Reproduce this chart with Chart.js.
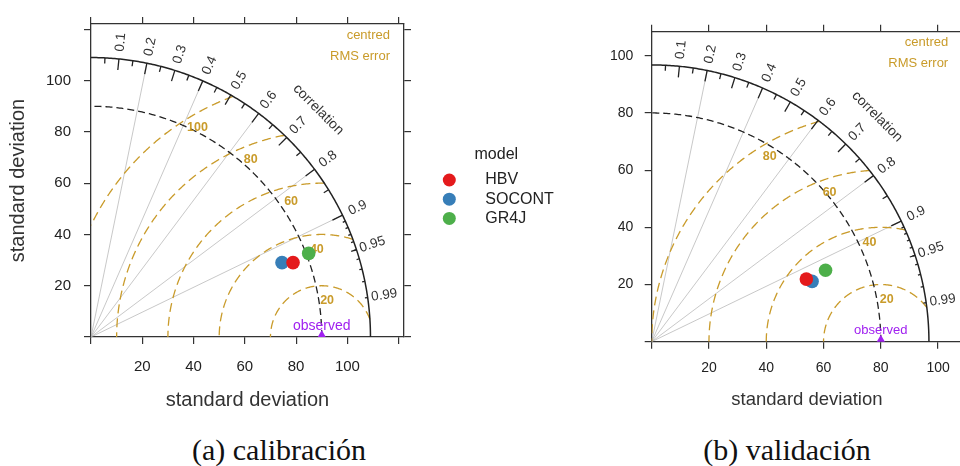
<!DOCTYPE html>
<html>
<head>
<meta charset="utf-8">
<script src="https://cdn.jsdelivr.net/npm/chart.js@4.4.0/dist/chart.umd.min.js"></script>
<style>
html, body { margin: 0; padding: 0; background: #fff; width: 960px; height: 466px; overflow: hidden; position: relative; }
#calCanvas { position: absolute; left: 0; top: 0; }
#valCanvas { position: absolute; left: 560px; top: 0; }
.cap { position: absolute; top: 435px; font-family: "Liberation Serif", "Times New Roman", serif; font-size: 30px; line-height: 1; color: #111; transform: translateX(-50%); white-space: nowrap; }
</style>
</head>
<body>
<canvas id="calCanvas" width="560" height="420"></canvas>
<canvas id="valCanvas" width="420" height="420"></canvas>
<div class="cap" style="left:279px">(a) calibración</div>
<div class="cap" style="left:787px">(b) validación</div>
<script>
const models = ['HBV', 'SOCONT', 'GR4J'];
const modelColors = ['#E41A1C', '#377EB8', '#4DAF4A'];

// (a) calibración
const calSd = [83.97, 79.94, 90.95];
const calCorr = [0.9384, 0.9319, 0.9335];
const calObsSd = 90;
const calMaxSd = 109;
const calRms = [20, 40, 60, 80, 100];
const calSdTicks = [0, 20, 40, 60, 80, 100, 120];

// (b) validación
const valSd = [58.27, 59.84, 65.65];
const valCorr = [0.9267, 0.9358, 0.9246];
const valObsSd = 80;
const valMaxSd = 96.8;
const valRms = [20, 40, 60, 80];
const valSdTicks = [0, 20, 40, 60, 80, 100];

const sdTickLabels = [20, 40, 60, 80, 100];
const corrTicks = [0.1, 0.2, 0.3, 0.4, 0.5, 0.6, 0.7, 0.8, 0.9, 0.95, 0.99];
const corrMedTicks = [0.05, 0.15, 0.25, 0.35, 0.45, 0.55, 0.65, 0.75, 0.85, 0.95];
const corrSmallTicks = [0.91, 0.92, 0.93, 0.94, 0.95, 0.96, 0.97, 0.98, 0.99];
const corrGrid = [0.2, 0.4, 0.6, 0.8, 0.9];

const fam = '"Liberation Sans", Arial, sans-serif';
const gold = '#C99B2A';
const purple = '#A020F0';
Chart.defaults.font.family = fam;

const taylorPlugin = {
  id: 'taylor',
  beforeDatasetsDraw(chart, args, o) {
    const ctx = chart.ctx, xs = chart.scales.x, ys = chart.scales.y, a = chart.chartArea;
    const P = (x, y) => [xs.getPixelForValue(x), ys.getPixelForValue(y)];
    const polar = (r, t) => P(r * Math.cos(t), r * Math.sin(t));
    const poly = pts => {
      ctx.beginPath();
      pts.forEach((p, i) => i ? ctx.lineTo(p[0], p[1]) : ctx.moveTo(p[0], p[1]));
      ctx.stroke();
    };
    const arc = (cx, r, t0, t1) => {
      const pts = [];
      for (let i = 0; i <= 240; i++) {
        const t = t0 + (t1 - t0) * i / 240;
        pts.push(P(cx + r * Math.cos(t), r * Math.sin(t)));
      }
      return pts;
    };
    const M = o.maxSd, obs = o.obsSd;
    ctx.save();
    ctx.beginPath();
    ctx.rect(a.left, a.top, a.right - a.left, a.bottom - a.top);
    ctx.clip();

    // correlation grid lines
    ctx.strokeStyle = 'rgba(170,170,170,0.65)';
    ctx.lineWidth = 1;
    corrGrid.forEach(c => poly([P(0, 0), polar(M, Math.acos(c))]));

    // centred RMS error arcs
    ctx.strokeStyle = gold;
    ctx.lineWidth = 1.3;
    ctx.setLineDash([9, 5]);
    o.rms.forEach(g => {
      const c0 = (M * M - obs * obs - g * g) / (2 * obs * g);
      const t0 = c0 >= 1 ? 0 : Math.acos(Math.max(-1, c0));
      const c1 = -obs / g;
      const t1 = c1 <= -1 ? Math.PI : Math.acos(c1);
      poly(arc(obs, g, t0, t1));
    });

    // observed sd arc
    ctx.strokeStyle = '#222';
    ctx.setLineDash([7, 4]);
    poly(arc(0, obs, 0, Math.PI / 2));

    // outer arc + correlation ticks
    ctx.setLineDash([]);
    ctx.lineWidth = 1.5;
    poly(arc(0, M, 0, Math.PI / 2));
    ctx.lineWidth = 1.3;
    const tick = (c, f) => { const t = Math.acos(c); poly([polar(M, t), polar(M * f, t)]); };
    corrTicks.slice(0, 9).forEach(c => tick(c, 0.96));
    corrMedTicks.forEach(c => tick(c, 0.98));
    corrSmallTicks.forEach(c => tick(c, 0.99));

    // correlation labels
    ctx.fillStyle = '#333';
    ctx.textAlign = 'center';
    ctx.textBaseline = 'middle';
    ctx.font = '13.5px ' + fam;
    corrTicks.forEach(c => {
      const t = Math.acos(c);
      const [x, y] = polar(M * 1.06, t);
      ctx.save(); ctx.translate(x, y); ctx.rotate(-t); ctx.fillText(String(c), 0, 0); ctx.restore();
    });
    const [cx, cy] = polar(M * 1.15, Math.PI / 4);
    ctx.save(); ctx.translate(cx, cy); ctx.rotate(Math.PI / 4);
    ctx.font = '14px ' + fam;
    ctx.fillText('correlation', 0, 0);
    ctx.restore();

    // RMS labels
    ctx.fillStyle = gold;
    ctx.font = 'bold 12.5px ' + fam;
    o.rms.forEach((g, i) => {
      const t = (84 + 35 * i / (o.rms.length - 1)) * Math.PI / 180;
      const [x, y] = P(obs + g * Math.cos(t), g * Math.sin(t));
      ctx.fillText(String(g), x, y + 15);
    });
    ctx.textAlign = 'right';
    ctx.font = '13px ' + fam;
    ctx.fillText('centred', a.right - 14, a.top + 11);
    ctx.fillText('RMS error', a.right - 14, a.top + 32);

    // observed label
    ctx.textAlign = 'center';
    ctx.fillStyle = purple;
    ctx.font = o.obsFont + 'px ' + fam;
    const [ox, oy] = P(obs, 0);
    ctx.fillText('observed', ox, oy - 11);
    ctx.restore();
  },
  afterDraw(chart, args, o) {
    if (!o.legend) return;
    const ctx = chart.ctx, L = o.legend;
    ctx.save();
    ctx.font = '16px ' + fam;
    ctx.textBaseline = 'middle';
    ctx.textAlign = 'center';
    ctx.fillStyle = '#222';
    ctx.fillText('model', L.x + 47, L.y - 25);
    ctx.textAlign = 'left';
    models.forEach((m, i) => {
      const y = L.y + i * 19.2;
      ctx.fillStyle = modelColors[i];
      ctx.beginPath(); ctx.arc(L.x, y, 6.5, 0, 2 * Math.PI); ctx.fill();
      ctx.fillStyle = '#222';
      ctx.fillText(m, L.x + 36, y);
    });
    ctx.restore();
  }
};

function sdScale(pos, range, ticks, opt) {
  const horiz = pos === 'top' || pos === 'bottom';
  const labelled = pos === 'bottom' || pos === 'left';
  return {
    type: 'linear', position: pos, min: 0, max: range, display: true,
    afterBuildTicks: s => { s.ticks = ticks.map(v => ({ value: v })); },
    afterFit: s => {
      if (horiz) s.height = opt.size; else s.width = opt.size;
      s.paddingLeft = s.paddingRight = s.paddingTop = s.paddingBottom = 0;
    },
    grid: { display: true, drawOnChartArea: false, drawTicks: true, tickLength: 7, color: '#333', lineWidth: 1.2 },
    border: { display: true, color: '#333', width: 1.3 },
    ticks: {
      display: labelled, autoSkip: false, maxRotation: 0, minRotation: 0,
      padding: opt.pad || 0, color: '#222', font: { size: opt.font || 14 },
      callback: v => sdTickLabels.includes(v) ? String(v) : ''
    },
    title: opt.title ? {
      display: true, text: 'standard deviation', color: '#333',
      font: { size: opt.title }, padding: opt.titlePad
    } : { display: false }
  };
}

function makeDatasets(sd, corr, obs) {
  const ds = [{
    label: 'observed', data: [{ x: obs, y: 0 }], pointStyle: 'triangle',
    pointRadius: 7, backgroundColor: purple, borderWidth: 0, clip: 0
  }];
  models.forEach((m, i) => ds.push({
    label: m,
    data: [{ x: sd[i] * corr[i], y: sd[i] * Math.sqrt(1 - corr[i] * corr[i]) }],
    backgroundColor: modelColors[i], pointRadius: 6.8, borderWidth: 0
  }));
  return ds;
}

function makeTaylor(id, sd, corr, obs, maxSd, rms, ticks, lay) {
  const range = maxSd * 1.12;
  return new Chart(document.getElementById(id), {
    type: 'scatter',
    data: { datasets: makeDatasets(sd, corr, obs) },
    options: {
      responsive: false, animation: false, events: [],
      layout: { padding: 0 },
      scales: {
        x: sdScale('bottom', range, ticks, lay.x),
        x2: sdScale('top', range, ticks, lay.x2),
        y: sdScale('left', range, ticks, lay.y),
        y2: sdScale('right', range, ticks, lay.y2)
      },
      plugins: {
        legend: { display: false },
        tooltip: { enabled: false },
        taylor: { maxSd: maxSd, obsSd: obs, rms: rms, obsFont: lay.obsFont, legend: lay.legend }
      }
    },
    plugins: [taylorPlugin]
  });
}

makeTaylor('calCanvas', calSd, calCorr, calObsSd, calMaxSd, calRms, calSdTicks, {
  x: { size: 83, pad: 13.4, font: 15, title: 20, titlePad: { top: 0, bottom: 8 } },
  x2: { size: 24 },
  y: { size: 91, pad: 13, font: 15, title: 20, titlePad: { top: 6.5, bottom: 0 } },
  y2: { size: 156 },
  obsFont: 14,
  legend: { x: 449.3, y: 180 }
});

makeTaylor('valCanvas', valSd, valCorr, valObsSd, valMaxSd, valRms, valSdTicks, {
  x: { size: 78.3, pad: 11.2, font: 14, title: 18.5, titlePad: { top: 0, bottom: 8.9 } },
  x2: { size: 31.7 },
  y: { size: 91.7, pad: 11.4, font: 14 },
  y2: { size: 17.8 },
  obsFont: 13
});
</script>
</body>
</html>
